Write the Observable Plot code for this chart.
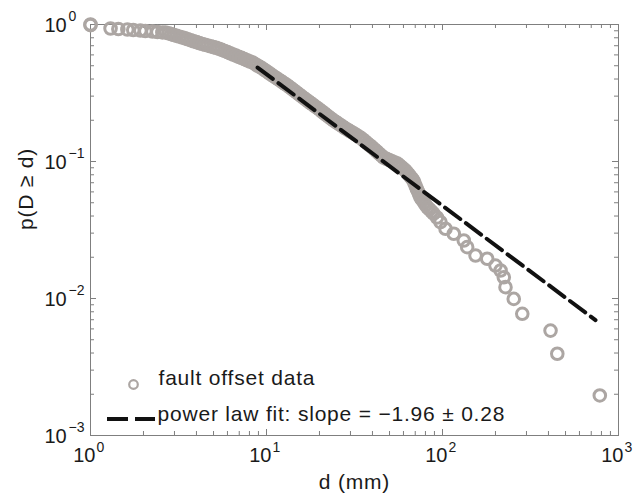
<!DOCTYPE html>
<html><head><meta charset="utf-8">
<script src="https://cdn.jsdelivr.net/npm/d3@7"></script>
<script src="https://cdn.jsdelivr.net/npm/@observablehq/plot@0.6"></script>
<style>
body{margin:0;background:#fff;}
#chart{width:635px;height:499px;}
</style>
</head><body><div id="chart"></div>
<script>
const offsetD = [1, 1, 1.30, 1.44, 1.62, 1.75, 1.92, 2.05, 2.25, 2.40, 2.56,
  2.67, 2.77, 2.87, 2.98, 3.09, 3.21, 3.33, 3.45, 3.58, 3.72, 3.85, 4.00, 4.15, 4.31, 4.47, 4.63, 4.81, 4.99, 5.18, 5.37,
  5.57, 5.78, 6.00, 6.22, 6.46, 6.70, 6.95, 7.21, 7.48, 7.76, 8.05, 8.32, 8.59, 8.87, 9.16, 9.46, 9.77, 10.07, 10.38, 10.69,
  11.02, 11.35, 11.69, 12.05, 12.42, 12.79, 13.18, 13.58, 14.00, 14.42, 14.86, 15.31, 15.78, 16.26, 16.75, 17.26, 17.78, 18.32, 18.88, 19.45,
  20.04, 20.65, 21.28, 21.93, 22.59, 23.28, 23.99, 24.72, 25.47, 26.24, 27.04, 27.86, 28.71, 29.58, 30.48, 31.41, 32.36, 33.34, 34.36, 35.40,
  36.48, 37.58, 38.73, 39.90, 41.11, 42.36, 43.65, 44.98, 46.24, 47.97, 49.77, 51.64, 53.58, 55.46, 57.02, 58.61, 60.26, 61.66,
  62.95, 64.27, 65.61, 66.99, 68.39, 69.34, 70.47, 71.45, 72.61, 73.79, 74.99, 76.74, 78.52, 80.35, 82.22, 84.33, 86.70, 88.92,
  93.0, 97.4, 104.0, 115.9, 132.1, 138.1, 154.1, 179.5, 200, 213.8, 223, 228, 254, 284, 411, 449, 783];
const offsetP = [1, 0.99, 0.935, 0.927, 0.919, 0.912, 0.904, 0.897, 0.889, 0.882, 0.875,
  0.8750, 0.8630, 0.8511, 0.8375, 0.8260, 0.8147, 0.8035, 0.7925, 0.7798, 0.7674, 0.7551, 0.7430, 0.7311, 0.7211, 0.7112, 0.7031, 0.6934, 0.6839, 0.6761, 0.6653,
  0.6531, 0.6412, 0.6281, 0.6166, 0.6039, 0.5929, 0.5808, 0.5702, 0.5585, 0.5483, 0.5370, 0.5284, 0.5152, 0.5023, 0.4909, 0.4786, 0.4645, 0.4529, 0.4406, 0.4285,
  0.4178, 0.4074, 0.3972, 0.3873, 0.3767, 0.3673, 0.3581, 0.3475, 0.3373, 0.3281, 0.3184, 0.3090, 0.2999, 0.2911, 0.2831, 0.2754, 0.2673, 0.2600, 0.2529, 0.2460,
  0.2388, 0.2317, 0.2249, 0.2183, 0.2118, 0.2056, 0.1995, 0.1945, 0.1897, 0.1849, 0.1803, 0.1754, 0.1714, 0.1675, 0.1637, 0.1600, 0.1563, 0.1524, 0.1489, 0.1442,
  0.1396, 0.1352, 0.1309, 0.1268, 0.1225, 0.1183, 0.1143, 0.1104, 0.1069, 0.1047, 0.1026, 0.1005, 0.0984, 0.0966, 0.0938, 0.0908, 0.0881, 0.0859,
  0.0830, 0.0804, 0.0776, 0.0752, 0.0726, 0.0695, 0.0661, 0.0632, 0.0603, 0.0574, 0.0546, 0.0524, 0.0502, 0.0481, 0.0461, 0.0447, 0.0431, 0.0417,
  0.0390, 0.0361, 0.0323, 0.0297, 0.0265, 0.0237, 0.0206, 0.0195, 0.0174, 0.0160, 0.0143, 0.0121, 0.00993, 0.00773, 0.00583, 0.00395, 0.00196];

// power-law fit line end points
const fitD = [8.9, 740];
const fitP = [0.485, 0.00696];

// ticks and labels
const xMajor = [1, 10, 100, 1000];
const xMajorExp = ["0", "1", "2", "3"];
const xMinor = [2, 3, 4, 5, 6, 7, 8, 9, 20, 30, 40, 50, 60, 70, 80, 90, 200, 300, 400, 500, 600, 700, 800, 900];
const yMajor = [1, 0.1, 0.01, 0.001];
const yMajorExp = ["0", "\u22121", "\u22122", "\u22123"];
const yMinor = [0.002, 0.003, 0.004, 0.005, 0.006, 0.007, 0.008, 0.009, 0.02, 0.03, 0.04, 0.05, 0.06, 0.07, 0.08, 0.09,
  0.2, 0.3, 0.4, 0.5, 0.6, 0.7, 0.8, 0.9];
const xTitle = "d (mm)";
const yTitle = "p(D \u2265 d)";
const legendLabels = ["fault offset data", "power law fit: slope = \u22121.96 \u00b1 0.28"];

const points = offsetD.map((d, i) => ({d, p: offsetP[i]}));
const fit = fitD.map((d, i) => ({d, p: fitP[i]}));

const W = 635, H = 499, mL = 90, mR = 17, mT = 24, mB = 64;
const fw = W - mL - mR, fh = H - mT - mB;
const axisGray = "#7f7f7f";
const dotGray = "#aca6a3";
const font = "'Liberation Sans', Arial, Helvetica, sans-serif";
const minorLen = 4, majorLen = 6;

const chart = Plot.plot({
  width: W, height: H,
  marginLeft: mL, marginRight: mR, marginTop: mT, marginBottom: mB,
  style: {fontFamily: font, background: "#fff", color: "#1a1a1a"},
  x: {type: "log", domain: [1, 1000], axis: null},
  y: {type: "log", domain: [0.001, 1], axis: null},
  marks: [
    Plot.frame({stroke: axisGray, strokeWidth: 1}),
    // bottom / top ticks
    Plot.tickX(xMinor, {x: d => d, insetTop: fh - minorLen, stroke: axisGray}),
    Plot.tickX(xMinor, {x: d => d, insetBottom: fh - minorLen, stroke: axisGray}),
    Plot.tickX(xMajor, {x: d => d, insetTop: fh - majorLen, stroke: axisGray}),
    Plot.tickX(xMajor, {x: d => d, insetBottom: fh - majorLen, stroke: axisGray}),
    // left / right ticks
    Plot.tickY(yMinor, {y: d => d, insetRight: fw - minorLen, stroke: axisGray}),
    Plot.tickY(yMinor, {y: d => d, insetLeft: fw - minorLen, stroke: axisGray}),
    Plot.tickY(yMajor, {y: d => d, insetRight: fw - majorLen, stroke: axisGray}),
    Plot.tickY(yMajor, {y: d => d, insetLeft: fw - majorLen, stroke: axisGray}),
    // data
    Plot.dot(points, {x: "d", y: "p", r: 5.8, stroke: dotGray, strokeWidth: 3, fill: "none"}),
    Plot.line(fit, {x: "d", y: "p", stroke: "#111", strokeWidth: 4, strokeDasharray: "19,7"}),
    // x tick labels
    Plot.text(xMajor, {x: d => d, frameAnchor: "bottom", text: () => "10", textAnchor: "end", dx: 5, dy: 26, fontSize: 20}),
    Plot.text(xMajor, {x: d => d, frameAnchor: "bottom", text: (d, i) => xMajorExp[i], textAnchor: "start", dx: 6, dy: 16, fontSize: 14}),
    // y tick labels
    Plot.text(yMajor, {y: d => d, frameAnchor: "left", text: () => "10", textAnchor: "start", dx: -46, dy: 1, fontSize: 20}),
    Plot.text(yMajor, {y: d => d, frameAnchor: "left", text: (d, i) => yMajorExp[i], textAnchor: "start", dx: -22, dy: -8, fontSize: 14}),
    // axis titles
    Plot.text([xTitle], {frameAnchor: "bottom", text: d => d, dy: 53, fontSize: 21}),
    Plot.text([yTitle], {frameAnchor: "left", text: d => d, dx: -64, rotate: -90, fontSize: 21}),
    // legend
    Plot.dot([0], {frameAnchor: "bottom-left", dx: 43, dy: -51, r: 4.3, stroke: dotGray, strokeWidth: 2.2, fill: "none"}),
    Plot.text([legendLabels[0]], {frameAnchor: "bottom-left", text: d => d, dx: 68, dy: -51, textAnchor: "start", fontSize: 21}),
    Plot.text([legendLabels[1]], {frameAnchor: "bottom-left", text: d => d, dx: 67, dy: -15, textAnchor: "start", fontSize: 21})
  ]
});

// slightly wider letter spacing for titles and legend text, as in the reference
const wide = new Set([xTitle, yTitle, ...legendLabels]);
d3.select(chart).selectAll("text")
  .filter(function() { return wide.has(this.textContent); })
  .attr("letter-spacing", "0.8");

// legend swatch for the dashed fit line
d3.select(chart).append("line")
  .attr("x1", mL + 17).attr("x2", mL + 65)
  .attr("y1", H - mB - 16).attr("y2", H - mB - 16)
  .attr("stroke", "#111").attr("stroke-width", 4).attr("stroke-dasharray", "21,7");

document.getElementById("chart").appendChild(chart);
</script>
</body></html>
